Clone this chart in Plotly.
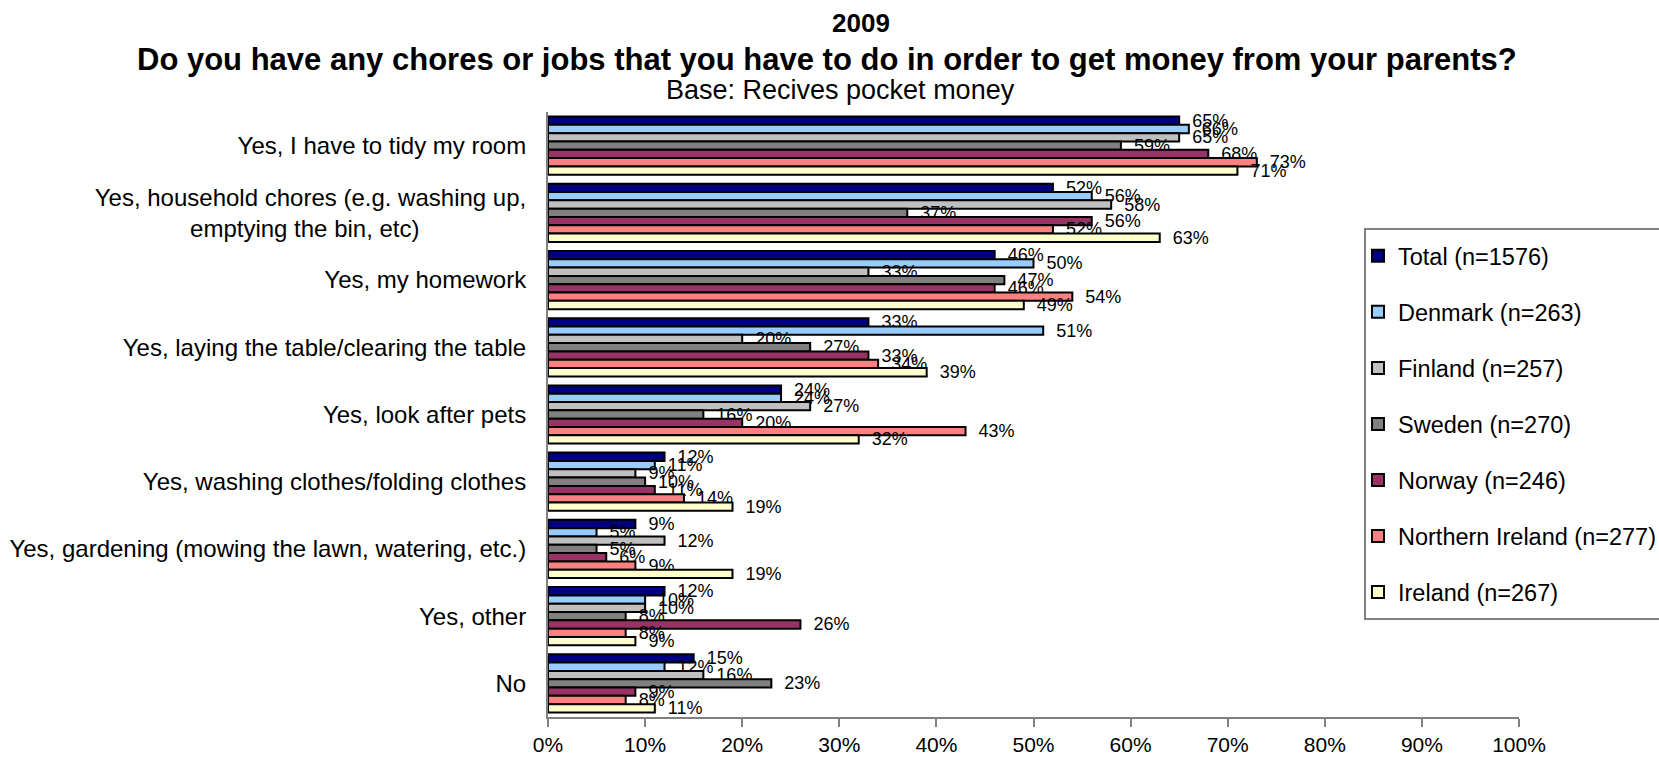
import plotly.graph_objects as go

NBSP = "\u00a0"

categories = [
    "Yes, I have to tidy my room",
    "Yes, household chores (e.g. washing up,<br>emptying the bin, etc)" + NBSP * 16,
    "Yes, my homework",
    "Yes, laying the table/clearing the table",
    "Yes, look after pets",
    "Yes, washing clothes/folding clothes",
    "Yes, gardening (mowing the lawn, watering, etc.)",
    "Yes, other",
    "No",
]

series_names = [
    "Total (n=1576)",
    "Denmark (n=263)",
    "Finland (n=257)",
    "Sweden (n=270)",
    "Norway (n=246)",
    "Northern Ireland (n=277)",
    "Ireland (n=267)",
]

total = [65, 52, 46, 33, 24, 12, 9, 12, 15]
denmark = [66, 56, 50, 51, 24, 11, 5, 10, 12]
finland = [65, 58, 33, 20, 27, 9, 12, 10, 16]
sweden = [59, 37, 47, 27, 16, 10, 5, 8, 23]
norway = [68, 56, 46, 33, 20, 11, 6, 26, 9]
northern_ireland = [73, 52, 54, 34, 43, 14, 9, 8, 8]
ireland = [71, 63, 49, 39, 32, 19, 19, 9, 11]

series_values = [total, denmark, finland, sweden, norway, northern_ireland, ireland]
colors = ["#000080", "#99CCFF", "#C0C0C0", "#808080", "#993366", "#FF8080", "#FFFFCC"]

FONT = "Liberation Sans, Arial, sans-serif"
W, H = 1659, 758
L, R, T, B = 548, 140, 112, 41
PW, PH = W - L - R, H - T - B


def px_x(x):
    return (x - L) / PW


def px_y(y):
    return (H - B - y) / PH


fig = go.Figure()
for name, vals, col in zip(series_names, series_values, colors):
    fig.add_trace(go.Bar(
        y=categories,
        x=[v / 100 for v in vals],
        name=name,
        orientation="h",
        legendgroup=name,
        marker=dict(color=col, line=dict(color="#000000", width=2)),
        text=[f"{v}%" for v in vals],
        texttemplate=NBSP * 2 + "%{text}",
        textposition="outside",
        constraintext="none",
        cliponaxis=False,
        textfont=dict(family=FONT, size=18, color="#000000"),
    ))

fig.update_layout(
    width=W,
    height=H,
    barmode="group",
    bargap=0.134,
    bargroupgap=0,
    paper_bgcolor="white",
    plot_bgcolor="white",
    margin=dict(l=L, r=R, t=T, b=B, autoexpand=False),
    font=dict(family=FONT, color="#000000"),
    showlegend=True,
    legend=dict(
        x=px_x(1358), y=px_y(234), xanchor="left", yanchor="top",
        bgcolor="rgba(0,0,0,0)",
        borderwidth=0,
        font=dict(family=FONT, size=23.5, color="#000000"),
        tracegroupgap=22.5,
        traceorder="grouped",
        itemwidth=30,
    ),
    xaxis=dict(
        range=[0, 1],
        tickmode="array",
        tickvals=[i / 10 for i in range(11)],
        ticktext=[f"{i * 10}%" for i in range(11)],
        showgrid=False,
        zeroline=False,
        showline=True,
        linecolor="#808080",
        linewidth=2,
        ticks="outside",
        ticklen=8,
        tickwidth=1.5,
        tickcolor="#808080",
        ticklabelstandoff=0,
        automargin=False,
        tickfont=dict(family=FONT, size=21, color="#000000"),
    ),
    yaxis=dict(
        autorange="reversed",
        showgrid=False,
        zeroline=False,
        showline=True,
        linecolor="#808080",
        linewidth=2,
        ticks="",
        ticklabelstandoff=15,
        automargin=False,
        tickfont=dict(family=FONT, size=24, color="#000000"),
    ),
    shapes=[dict(
        type="rect", xref="paper", yref="paper",
        x0=px_x(1365), x1=px_x(1700), y0=px_y(619), y1=px_y(229),
        line=dict(color="#808080", width=2),
        fillcolor="white", layer="below",
    )],
)

# Title block: three lines above the plot area
title_lines = [
    ("<b>2009</b>", 861, 23, 26),
    ("<b>Do you have any chores or jobs that you have to do in order to get money from your parents?</b>", 827, 60, 31),
    ("Base: Recives pocket money", 840, 90, 27),
]
for txt, xpix, ypix, size in title_lines:
    fig.add_annotation(
        text=txt, xref="paper", yref="paper",
        x=px_x(xpix), y=px_y(ypix),
        xanchor="center", yanchor="middle", showarrow=False,
        font=dict(family=FONT, size=size, color="#000000"),
    )

fig.write_html("out.html")
